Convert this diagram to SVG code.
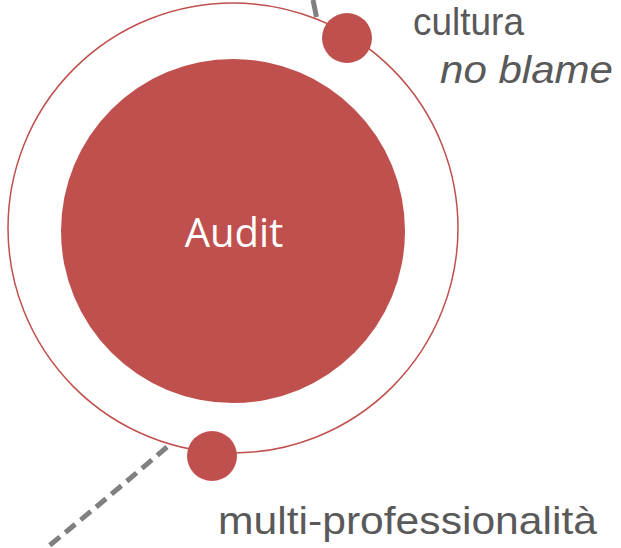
<svg xmlns="http://www.w3.org/2000/svg" width="621" height="548" viewBox="0 0 621 548">
<style>
.lbl{font-family:"Liberation Sans",Arial,sans-serif;font-size:39px;fill:#595959}
.conn{fill:none;stroke:#808080;stroke-width:5}
.dot{fill:#c0504d}
</style>
<rect width="621" height="548" fill="#ffffff"/>
<g id="connectors">
<path class="conn" d="M313,0 L316.5,17"/>
<path class="conn" d="M167,447 Q110,496 44,550" stroke-dasharray="13,7"/>
</g>
<g id="ring">
<circle cx="233" cy="228" r="225" fill="none" stroke="#c0504d" stroke-width="1.5"/>
</g>
<g id="audit">
<circle cx="233" cy="231" r="172" class="dot"/>
<text x="234" y="247" text-anchor="middle" style="font-family:'Open Sans','Liberation Sans',sans-serif;font-size:40px;fill:#ffffff">Audit</text>
</g>
<g id="cultura">
<circle cx="347" cy="38" r="25" class="dot"/>
<text class="lbl" x="413" y="35" textLength="111" lengthAdjust="spacingAndGlyphs">cultura</text>
<text class="lbl" x="440" y="83" font-style="italic" textLength="173" lengthAdjust="spacingAndGlyphs">no blame</text>
</g>
<g id="multi">
<circle cx="212" cy="456" r="25" class="dot"/>
<text class="lbl" x="218" y="534" textLength="379" lengthAdjust="spacingAndGlyphs">multi-professionalità</text>
</g>
</svg>
